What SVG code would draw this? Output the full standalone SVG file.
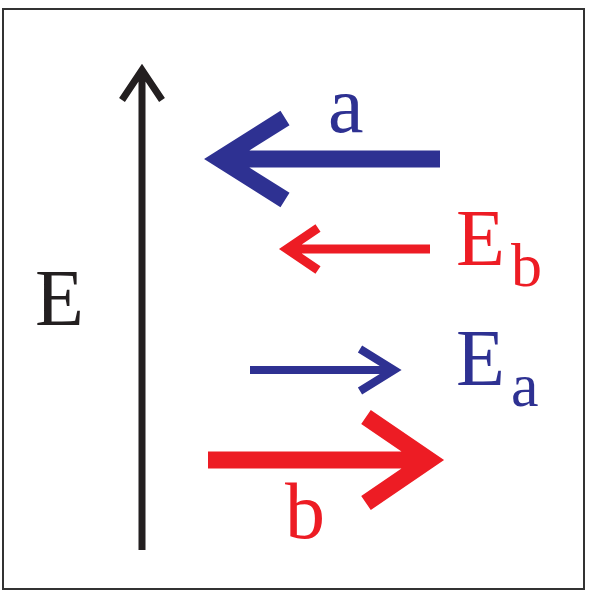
<svg xmlns="http://www.w3.org/2000/svg" width="592" height="592" viewBox="0 0 592 592">
<style>
text{font-family:'Liberation Serif','Times New Roman','DejaVu Serif',Times,serif}
.lbl{font-size:80px}
.sub{font-size:62px}
.ar{fill:none;stroke-linejoin:miter;stroke-linecap:butt;stroke-miterlimit:10}
.blue{fill:#2E3192}
.red{fill:#ED1C24}
</style>
<rect x="3" y="9" width="581" height="580" fill="#fff" stroke="#333" stroke-width="2"/>
<g id="connectors">
<path class="ar" d="M142 550 L142 70 M122 100 L142 70 L162 100" stroke="#231F20" stroke-width="7"/>
<path class="ar" d="M440 159 L220 159 M285 118 L220 159 L285 200" stroke="#2E3192" stroke-width="17"/>
<path class="ar" d="M430 249 L287 249 M318 228 L287 249 L318 270" stroke="#ED1C24" stroke-width="9"/>
<path class="ar" d="M250 370 L394 370 M360 349 L394 370 L360 391" stroke="#2E3192" stroke-width="8"/>
<path class="ar" d="M208 460 L429 460 M366 417 L429 460 L366 503" stroke="#ED1C24" stroke-width="17"/>
</g>
<g id="E"><text class="lbl" x="35" y="325" fill="#231F20" font-family="Liberation Serif">E</text></g>
<g id="a"><text class="lbl" x="328" y="132" fill="#2E3192" font-family="Liberation Serif">a</text></g>
<g id="Eb"><text class="lbl red" x="456" y="265">E</text><text class="sub red" x="511" y="286">b</text></g>
<g id="Ea"><text class="lbl blue" x="456" y="385">E</text><text class="sub blue" x="511" y="406">a</text></g>
<g id="b"><text class="lbl red" x="285" y="538">b</text></g>
</svg>
